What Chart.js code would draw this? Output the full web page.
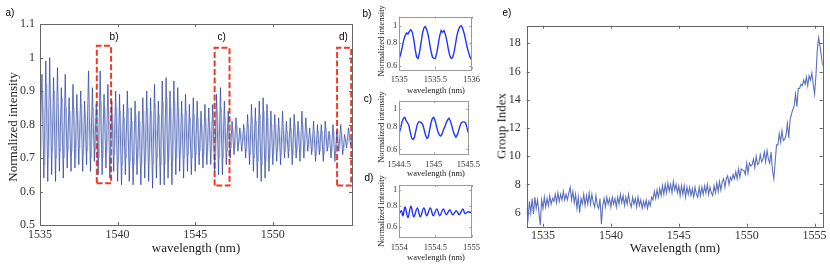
<!DOCTYPE html>
<html>
<head>
<meta charset="utf-8">
<script src="https://cdn.jsdelivr.net/npm/chart.js@4.4.1/dist/chart.umd.min.js"></script>
<style>
  body { margin: 0; background: #fff; width: 830px; height: 265px; position: relative; overflow: hidden; font-family: 'Liberation Serif', 'Times New Roman', serif; }
  canvas { position: absolute; }
  .lbl { position: absolute; white-space: nowrap; color: #222; line-height: 1; transform: translate(-50%, -50%); }
  .rot { transform: translate(-50%, -50%) rotate(-90deg); }
  .tag { font-family: 'Liberation Sans', Arial, sans-serif; font-size: 10px; color: #000; }
</style>
</head>
<body>
<canvas id="chartA" width="360" height="265" style="left:0;top:0"></canvas>
<canvas id="chartB" width="115" height="97" style="left:370px;top:0"></canvas>
<canvas id="chartC" width="115" height="97" style="left:370px;top:85px"></canvas>
<canvas id="chartD" width="115" height="97" style="left:370px;top:168px"></canvas>
<canvas id="chartE" width="350" height="265" style="left:480px;top:0"></canvas>

<script>
// ---- panel a) : full spectrum, samples every 0.125 nm from 1535 nm
const aWlStart = 1535;
const aWlStep = 0.125;
const aIntensity = [
    0.72, 0.95, 0.64, 0.99, 0.63, 1.00, 0.65, 0.94,   // 1535
    0.63, 0.97, 0.66, 0.91, 0.64, 0.95, 0.67, 0.88,   // 1536
    0.66, 0.92, 0.67, 0.89, 0.68, 0.90, 0.66, 0.87,   // 1537
    0.68, 0.96, 0.66, 0.91, 0.69, 0.86, 0.65, 0.96,   // 1538
    0.65, 0.89, 0.67, 0.92, 0.64, 0.87, 0.66, 0.90,   // 1539
    0.63, 0.89, 0.62, 0.86, 0.65, 0.90, 0.63, 0.85,   // 1540
    0.62, 0.87, 0.65, 0.84, 0.62, 0.88, 0.64, 0.90,   // 1541
    0.63, 0.88, 0.61, 0.92, 0.64, 0.87, 0.62, 0.93,   // 1542
    0.62, 0.94, 0.64, 0.90, 0.62, 0.93, 0.65, 0.91,   // 1543
    0.66, 0.87, 0.64, 0.89, 0.66, 0.86, 0.65, 0.88,   // 1544
    0.66, 0.87, 0.68, 0.84, 0.67, 0.86, 0.68, 0.85,   // 1545
    0.68, 0.86, 0.66, 0.89, 0.65, 0.91, 0.65, 0.87,   // 1546
    0.68, 0.84, 0.70, 0.81, 0.71, 0.82, 0.72, 0.79,   // 1547
    0.72, 0.80, 0.70, 0.83, 0.68, 0.86, 0.66, 0.85,   // 1548
    0.64, 0.87, 0.63, 0.88, 0.64, 0.86, 0.66, 0.84,   // 1549
    0.68, 0.83, 0.69, 0.82, 0.68, 0.84, 0.70, 0.81,   // 1550
    0.70, 0.82, 0.68, 0.83, 0.70, 0.81, 0.69, 0.84,   // 1551
    0.70, 0.82, 0.72, 0.79, 0.71, 0.81, 0.69, 0.80,   // 1552
    0.71, 0.80, 0.69, 0.81, 0.72, 0.78, 0.70, 0.80,   // 1553
    0.69, 0.78, 0.72, 0.80, 0.71, 0.77, 0.73, 0.79,   // 1554
    0.74, 0.76                                        // 1555
];
// paler in-between fringes, sampled half a step later
const aFineStart = 1535.0625;
const aFineIntensity = [
    0.70, 0.90, 0.68, 0.92, 0.70, 0.88, 0.72, 0.90,   // 1535
    0.70, 0.86, 0.72, 0.88, 0.70, 0.85, 0.72, 0.84,   // 1536
    0.72, 0.85, 0.70, 0.84, 0.73, 0.86, 0.71, 0.83,   // 1537
    0.72, 0.86, 0.70, 0.85, 0.72, 0.83, 0.70, 0.87,   // 1538
    0.70, 0.85, 0.72, 0.84, 0.70, 0.83, 0.71, 0.85,   // 1539
    0.69, 0.84, 0.68, 0.82, 0.70, 0.85, 0.69, 0.81,   // 1540
    0.68, 0.83, 0.70, 0.81, 0.68, 0.84, 0.69, 0.85,   // 1541
    0.69, 0.84, 0.68, 0.86, 0.70, 0.83, 0.68, 0.87,   // 1542
    0.68, 0.88, 0.70, 0.85, 0.69, 0.87, 0.70, 0.85,   // 1543
    0.71, 0.83, 0.70, 0.84, 0.71, 0.82, 0.70, 0.83,   // 1544
    0.71, 0.82, 0.72, 0.80, 0.71, 0.82, 0.72, 0.81,   // 1545
    0.72, 0.82, 0.70, 0.84, 0.70, 0.85, 0.70, 0.82,   // 1546
    0.72, 0.80, 0.73, 0.79, 0.73, 0.80, 0.74, 0.78,   // 1547
    0.74, 0.79, 0.72, 0.80, 0.71, 0.82, 0.70, 0.81,   // 1548
    0.69, 0.83, 0.68, 0.84, 0.69, 0.82, 0.70, 0.80,   // 1549
    0.71, 0.80, 0.72, 0.79, 0.71, 0.80, 0.72, 0.78,   // 1550
    0.72, 0.79, 0.71, 0.80, 0.72, 0.78, 0.72, 0.80,   // 1551
    0.72, 0.79, 0.73, 0.77, 0.72, 0.78, 0.71, 0.78,   // 1552
    0.72, 0.78, 0.71, 0.79, 0.73, 0.77, 0.72, 0.78,   // 1553
    0.71, 0.77, 0.73, 0.78, 0.72, 0.76, 0.74, 0.77,   // 1554
    0.75                                              // 1555
];
const aXTicks = [1535, 1540, 1545, 1550];
const aYTicks = [0.5, 0.6, 0.7, 0.8, 0.9, 1, 1.1];

// zoom windows marked on panel a)
const boxLabels = ['b)', 'c)', 'd)'];
const boxX0 = [1538.66, 1546.25, 1554.14];
const boxX1 = [1539.58, 1547.21, 1555.05];
const boxY0 = [0.625, 0.618, 0.618];
const boxY1 = [1.035, 1.029, 1.029];
const boxLabelX = [1539.77, 1546.7, 1554.55];
const boxLabelY = 1.06;

// ---- panels b) c) d) : close-ups, log intensity axis
const bWlStart = 1535;
const bWlStep = 0.02;
const bIntensity = [
    0.66, 0.70, 0.76, 0.83, 0.88, 0.91, 0.90, 0.93, 0.95, 0.92,
    0.84, 0.74, 0.67, 0.66, 0.71, 0.80, 0.90, 0.97, 0.99, 0.95,
    0.89, 0.80, 0.72, 0.67, 0.66, 0.66, 0.71, 0.79, 0.88, 0.94,
    0.92, 0.94, 0.89, 0.82, 0.74, 0.68, 0.66, 0.67, 0.72, 0.80,
    0.89, 0.95, 0.99, 1.00, 0.96, 0.90, 0.83, 0.76, 0.71, 0.67,
    0.65
];
const cWlStart = 1544.5;
const cWlStep = 0.02;
const cIntensity = [
    0.74, 0.79, 0.85, 0.89, 0.90, 0.86, 0.84, 0.81, 0.74, 0.69,
    0.68, 0.70, 0.76, 0.82, 0.85, 0.85, 0.84, 0.82, 0.77, 0.72,
    0.69, 0.70, 0.77, 0.84, 0.89, 0.90, 0.86, 0.80, 0.75, 0.72,
    0.71, 0.73, 0.77, 0.80, 0.84, 0.87, 0.89, 0.86, 0.81, 0.76,
    0.72, 0.70, 0.72, 0.76, 0.81, 0.84, 0.85, 0.85, 0.84, 0.79,
    0.74
];
const dWavelength = [
    1554.00, 1554.03, 1554.05, 1554.08, 1554.12, 1554.16, 1554.20, 1554.25, 1554.29,
    1554.34, 1554.38, 1554.43, 1554.47, 1554.52, 1554.56, 1554.61, 1554.65, 1554.70,
    1554.74, 1554.79, 1554.83, 1554.88, 1554.91, 1554.95, 1555.00
];
const dIntensity = [
    0.72, 0.75, 0.70, 0.79, 0.68, 0.80, 0.69, 0.78, 0.69,
    0.78, 0.70, 0.78, 0.70, 0.77, 0.70, 0.77, 0.71, 0.76,
    0.71, 0.75, 0.71, 0.77, 0.72, 0.74, 0.73
];
const zoomYTicks = [0.6, 0.8, 1];

// ---- panel e) : group index, samples every 0.1 nm from 1533.8 nm
const eWlStart = 1533.8;
const eWlStep = 0.1;
const eGroupIndex = [
    6.3, 5.6, 6.8, 6.0, 7.0, 5.9, 7.1, 6.3, 6.9, 6.0,
    5.1, 6.9, 6.3, 7.1, 6.4, 7.0, 6.5, 7.2, 6.6, 7.0,
    6.8, 7.3, 6.7, 7.4, 6.8, 7.3, 6.9, 7.5, 6.9, 7.3,
    6.9, 7.4, 7.8, 6.9, 7.5, 6.7, 7.3, 6.3, 7.1, 6.0,
    7.0, 6.6, 7.3, 6.5, 7.2, 6.6, 7.4, 6.6, 7.3, 6.7,
    6.4, 7.2, 6.5, 6.3, 7.0, 5.2, 6.5, 7.0, 6.4, 7.1,
    6.6, 7.0, 6.4, 7.1, 6.6, 7.0, 6.4, 7.1, 6.6, 7.3,
    6.7, 7.2, 6.5, 7.1, 6.6, 7.3, 6.7, 6.4, 7.1, 6.6,
    7.0, 6.4, 7.1, 6.5, 6.9, 6.3, 6.8, 6.4, 6.9, 6.3,
    6.8, 6.5, 7.1, 6.9, 7.5, 7.0, 7.6, 7.1, 7.7, 7.2,
    7.9, 7.3, 8.0, 7.4, 8.1, 7.5, 8.0, 7.4, 8.2, 7.6,
    8.0, 7.4, 7.9, 7.2, 7.9, 7.3, 7.9, 7.1, 7.8, 7.3,
    7.8, 7.2, 7.7, 7.1, 7.8, 7.3, 7.1, 7.8, 7.2, 7.8,
    7.3, 7.9, 7.4, 8.0, 7.3, 7.8, 7.4, 7.2, 7.9, 7.4,
    8.1, 7.5, 8.2, 7.6, 8.2, 8.4, 7.8, 8.4, 8.6, 8.0,
    8.5, 8.3, 8.7, 8.4, 8.9, 8.4, 9.1, 8.5, 9.1, 9.0,
    9.0, 8.7, 9.5, 8.8, 9.5, 9.3, 9.4, 9.8, 9.2, 10.0,
    9.4, 9.5, 10.1, 9.6, 9.8, 10.3, 9.6, 10.4, 9.8, 9.5,
    10.3, 9.0, 8.4, 9.6, 10.8, 10.8, 11.6, 11.0, 11.8, 11.1,
    11.2, 11.5, 12.3, 11.3, 12.6, 13.0, 13.3, 13.6, 14.4, 13.5,
    14.8, 14.8, 15.1, 15.0, 15.4, 15.1, 15.6, 15.0, 15.7, 15.4,
    15.9, 15.1, 14.4, 15.7, 17.5, 18.4, 17.8, 17.1, 16.4
];
const eXTicks = [1535, 1540, 1545, 1550, 1555];
const eYTicks = [6, 8, 10, 12, 14, 16, 18];

// MATLAB-like frame: full box with ticks pointing inwards
const boxTicks = {
    id: 'boxTicks',
    afterDraw(chart, args, opts) {
        const { ctx, chartArea: a, scales } = chart;
        const len = opts.len || 3;
        ctx.save();
        ctx.strokeStyle = opts.color || '#777';
        ctx.lineWidth = 1;
        ctx.beginPath();
        scales.x.ticks.forEach(t => {
            const px = Math.round(scales.x.getPixelForValue(t.value)) + 0.5;
            ctx.moveTo(px, a.bottom); ctx.lineTo(px, a.bottom - len);
            ctx.moveTo(px, a.top); ctx.lineTo(px, a.top + len);
        });
        scales.y.ticks.forEach(t => {
            const py = Math.round(scales.y.getPixelForValue(t.value)) + 0.5;
            ctx.moveTo(a.left, py); ctx.lineTo(a.left + len, py);
            ctx.moveTo(a.right, py); ctx.lineTo(a.right - len, py);
        });
        ctx.stroke();
        ctx.strokeRect(Math.round(a.left) + 0.5, Math.round(a.top) + 0.5,
            Math.round(a.right - a.left), Math.round(a.bottom - a.top));
        ctx.restore();
    }
};

function toPoints(start, step, values) {
    return values.map((v, i) => ({ x: start + i * step, y: v }));
}

function axis(min, max, tickList, size, fit, pad, type) {
    return {
        type: type || 'linear',
        min: min,
        max: max,
        grid: { display: false, drawTicks: false },
        border: { display: false },
        afterBuildTicks: s => { s.ticks = tickList.map(v => ({ value: v })); },
        afterFit: fit,
        ticks: {
            autoSkip: false,
            maxRotation: 0,
            padding: pad,
            color: '#333',
            font: { family: "'Liberation Serif', serif", size: size },
            callback: v => String(+(+v).toFixed(2))
        }
    };
}

function makeChart(id, datasets, xAxis, yAxis, padding, frame) {
    return new Chart(document.getElementById(id), {
        type: 'line',
        data: { datasets: datasets },
        options: {
            responsive: false,
            animation: false,
            events: [],
            layout: { padding: padding },
            elements: { point: { radius: 0 } },
            plugins: {
                legend: { display: false },
                tooltip: { enabled: false },
                boxTicks: frame
            },
            scales: { x: xAxis, y: yAxis }
        },
        plugins: [boxTicks]
    });
}

// panel a)
const aSets = [{
    data: toPoints(aFineStart, aWlStep, aFineIntensity),
    borderColor: 'rgba(125, 148, 210, 0.65)',
    borderWidth: 0.8,
    tension: 0
}, {
    data: toPoints(aWlStart, aWlStep, aIntensity),
    borderColor: 'rgba(40, 64, 158, 0.9)',
    borderWidth: 0.8,
    tension: 0
}];
boxLabels.forEach((lab, i) => {
    aSets.push({
        data: [
            { x: boxX0[i], y: boxY0[i] }, { x: boxX0[i], y: boxY1[i] },
            { x: boxX1[i], y: boxY1[i] }, { x: boxX1[i], y: boxY0[i] },
            { x: boxX0[i], y: boxY0[i] }
        ],
        borderColor: '#ea3b2a',
        borderWidth: 2,
        borderDash: [6, 2.5],
        tension: 0,
        clip: false
    });
});
const chartA = makeChart('chartA', aSets,
    axis(1535, 1555.1, aXTicks, 12, s => { s.height = 40; }, 3),
    axis(0.5, 1.1, aYTicks, 12, s => { s.width = 40; }, 5),
    { top: 24, right: 8, left: 0, bottom: 0 },
    { color: '#666', len: 3 });

// zoom panels
const zoomLine = { borderColor: '#2233ff', borderWidth: 1.4 };
makeChart('chartB', [{ data: toPoints(bWlStart, bWlStep, bIntensity), ...zoomLine, tension: 0 }],
    axis(1535, 1536, [1535, 1535.5, 1536], 8.5, s => { s.height = 27.7; }, 5),
    axis(0.575, 1.12, zoomYTicks, 8.5, s => { s.width = 29.3; }, 2, 'logarithmic'),
    { top: 16.7, right: 13, left: 0, bottom: 0 },
    { color: '#999', len: 2 });
makeChart('chartC', [{ data: toPoints(cWlStart, cWlStep, cIntensity), ...zoomLine, tension: 0 }],
    axis(1544.5, 1545.5, [1544.5, 1545, 1545.5], 8.5, s => { s.height = 27.7; }, 5),
    axis(0.564, 1.106, zoomYTicks, 8.5, s => { s.width = 29.3; }, 2, 'logarithmic'),
    { top: 16, right: 13, left: 0, bottom: 0 },
    { color: '#999', len: 2 });
makeChart('chartD', [{ data: dWavelength.map((w, i) => ({ x: w, y: dIntensity[i] })), ...zoomLine, tension: 0.35 }],
    axis(1554, 1555, [1554, 1554.5, 1555], 8.5, s => { s.height = 27.7; }, 5),
    axis(0.52, 1.07, zoomYTicks, 8.5, s => { s.width = 29.3; }, 2, 'logarithmic'),
    { top: 17, right: 13, left: 0, bottom: 0 },
    { color: '#999', len: 2 });

// panel e)
makeChart('chartE', [{
        data: toPoints(eWlStart, eWlStep, eGroupIndex),
        borderColor: 'rgba(50, 78, 170, 0.8)',
        borderWidth: 1.1,
        tension: 0
    }],
    axis(1533.8, 1555.6, eXTicks, 12, s => { s.height = 38.3; }, 2),
    axis(5, 19.25, eYTicks, 12, s => { s.width = 46.7; }, 6),
    { top: 25.7, right: 7.3, left: 0, bottom: 0 },
    { color: '#666', len: 3 });

// text labels (real DOM text)
function addLabel(text, x, y, size, cls) {
    const el = document.createElement('div');
    el.className = 'lbl ' + (cls || '');
    el.textContent = text;
    el.style.left = x + 'px';
    el.style.top = y + 'px';
    if (size) el.style.fontSize = size + 'px';
    document.body.appendChild(el);
}

addLabel('a)', 10, 13, null, 'tag');
addLabel('Normalized intensity', 12, 127, 13, 'rot');
addLabel('wavelength (nm)', 196, 247, 13);

// box captions placed through the scales of panel a)
boxLabels.forEach((lab, i) => {
    const px = chartA.scales.x.getPixelForValue(boxLabelX[i]);
    const py = chartA.scales.y.getPixelForValue(boxLabelY);
    addLabel(lab, px, py, null, 'tag');
});

addLabel('b)', 367, 14, null, 'tag');
addLabel('c)', 368, 99, null, 'tag');
addLabel('d)', 369, 178, null, 'tag');
addLabel('Normalized intensity', 381, 41, 8.5, 'rot');
addLabel('Normalized intensity', 381, 127, 8.5, 'rot');
addLabel('Normalized intensity', 381, 211, 8.5, 'rot');
addLabel('wavelength (nm)', 436, 90, 8.5);
addLabel('wavelength (nm)', 436, 173, 8.5);
addLabel('wavelength (nm)', 436, 257, 8.5);

addLabel('e)', 507, 13, null, 'tag');
addLabel('Group Index', 501, 126, 13, 'rot');
addLabel('Wavelength (nm)', 675, 247, 13);
</script>
</body>
</html>
